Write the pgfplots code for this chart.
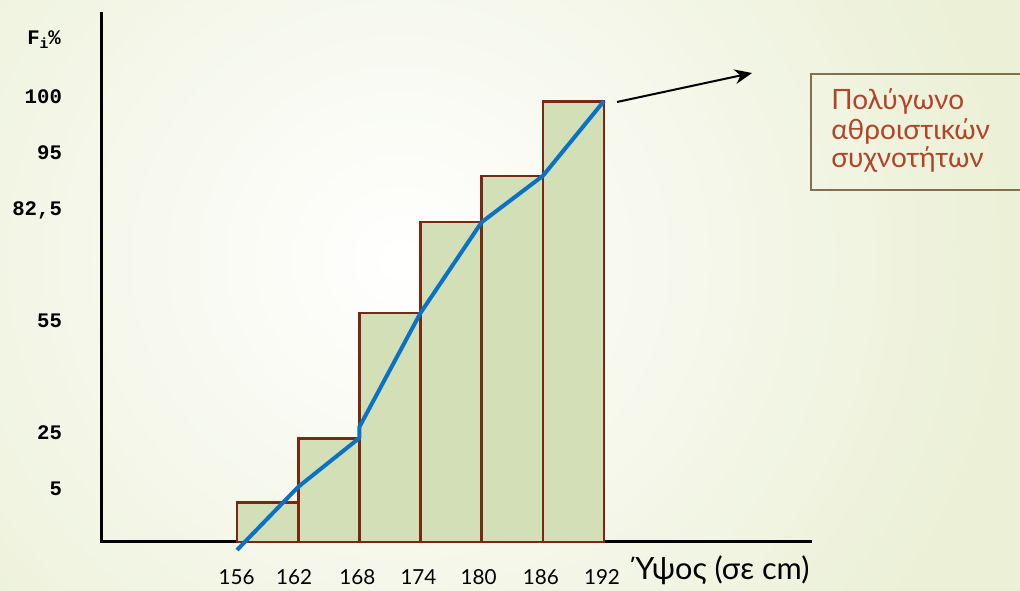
\documentclass[border=0pt]{standalone}
\usepackage{pgfplots}
\pgfplotsset{compat=1.18}
\usetikzlibrary{arrows.meta}
\usepackage{fontspec}
\setmainfont{Lato}
\newfontfamily\monob{Liberation Mono}
\definecolor{bgc}{HTML}{EBF0D6}
\definecolor{barfill}{HTML}{D3DFB6}
\definecolor{barline}{HTML}{7B2812}
\definecolor{polyblue}{HTML}{0A72C4}
\definecolor{boxtext}{HTML}{B0452A}
\definecolor{boxline}{HTML}{80704E}

\begin{document}
\begin{tikzpicture}[x=0.75pt,y=0.75pt]
\path[use as bounding box] (0,0) rectangle (1020,590);
\begin{scope}
  \clip (0,0) rectangle (1020,590);
  \shade[inner color=white,outer color=bgc] (-220,-270) rectangle (1020,930);
\end{scope}
\coordinate (axorigin) at (100,40);
\begin{axis}[
  at={(axorigin)}, anchor=south west,
  scale only axis, width=534pt, height=403.5pt,
  xmin=142.56, xmax=212.4, ymin=-1.82, ymax=120.3,
  axis line style={draw=none},
  major tick length=0pt,
  xtick={155.95,161.6,167.8,173.8,179.7,185.8,191.8},
  xticklabels={156,162,168,174,180,186,192},
  xticklabel style={font=\fontsize{15.5}{18}\selectfont, anchor=north, yshift=-11pt},
  ytick={12.03,24.74,50.17,75.37,88.3,101.0},
  yticklabels={5,25,55,{82,5},95,100},
  yticklabel style={font=\monob\bfseries\fontsize{15.5}{18}\selectfont, anchor=east, xshift=-25pt},
  clip=false,
]
% axes drawn by hand, bars go on top
\draw[line width=2.25pt] (axis cs:142.56,0) -- (axis cs:212.4,0);
\draw[line width=2.25pt] (axis cs:142.66,0) -- (axis cs:142.66,120.3);
\addplot[ybar interval, fill=barfill, draw=barline, line width=2pt] coordinates {
  (156,8.97) (162,23.5) (168,52.0) (174,72.6) (180,83.1) (186,100) (192,100)
};
% cumulative frequency polygon
\addplot[polyblue, line width=3pt, line join=round] coordinates {
  (156,-1.82) (162,12.5) (168,23.6) (168,26.1) (174,52.0) (180,72.6) (186,83.1) (192,100.1)
};
\end{axis}
\node[anchor=base west, inner sep=0pt, font=\monob\bfseries\fontsize{15.5}{18}\selectfont] at (27,545) {F\raisebox{-0.35ex}{\fontsize{11}{12}\selectfont i}\%};
\node[anchor=base west, inner sep=0pt, font=\fontsize{23}{26}\selectfont] at (635,11) {Ύψος (σε cm)};
\draw[-{Stealth[length=13pt,width=11pt]}, line width=1.5pt] (617,488) -- (752,517);
\draw[boxline, line width=1.5pt] (811,400) rectangle (1035,516);
\begin{scope}[every node/.style={anchor=base west, inner sep=0pt, text=boxtext, font=\fontsize{21}{24}\selectfont}]
  \node at (831,480) {Πολύγωνο};
  \node at (831,450) {αθροιστικών};
  \node at (831,422) {συχνοτήτων};
\end{scope}
\end{tikzpicture}
\end{document}
